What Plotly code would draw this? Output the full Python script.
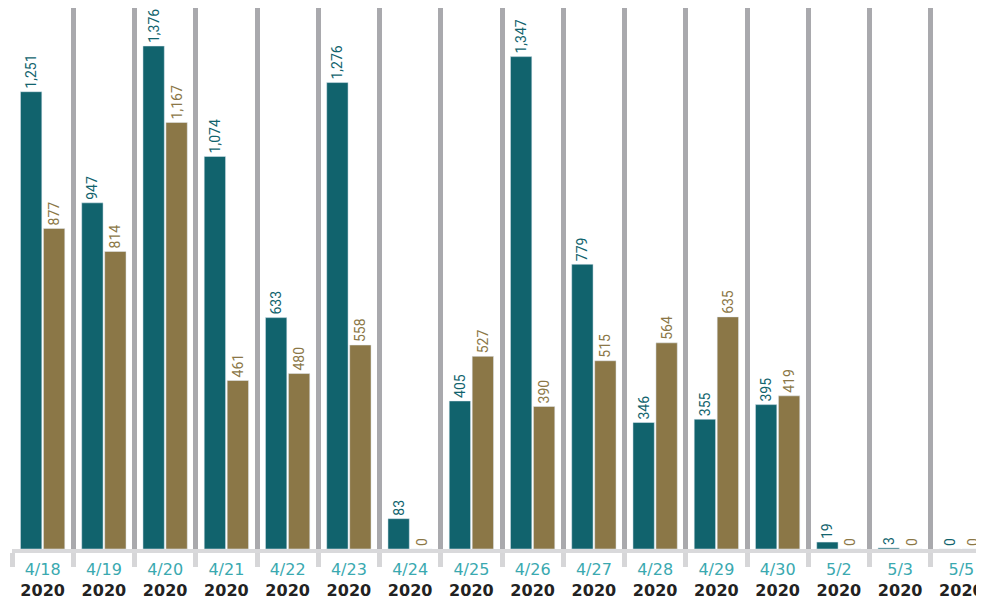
import plotly.graph_objects as go

categories = ["4/18", "4/19", "4/20", "4/21", "4/22", "4/23", "4/24", "4/25",
              "4/26", "4/27", "4/28", "4/29", "4/30", "5/2", "5/3", "5/5"]
year_label = "2020"
series_a = [1251, 947, 1376, 1074, 633, 1276, 83, 405, 1347, 779, 346, 355, 395, 19, 3, 0]
series_b = [877, 814, 1167, 461, 480, 558, 0, 527, 390, 515, 564, 635, 419, 0, 0, 0]

TEAL = "#11636d"
OLIVE = "#8b7747"
TICK_TEAL = "#3aa9b0"
FONT = "DejaVu Sans"
VALUE_FONT = "Roboto"

ticktext = [f"<span style='color:{TICK_TEAL}'>{c}</span><br><b>{year_label}</b>" for c in categories]

fig = go.Figure()
fig.add_trace(go.Bar(
    x=categories, y=series_a, marker_color=TEAL,
    text=series_a, texttemplate="%{y:,}", textposition="outside",
    textangle=-90, textfont=dict(color=TEAL, size=14, family=VALUE_FONT),
    cliponaxis=False, showlegend=False,
))
fig.add_trace(go.Bar(
    x=categories, y=series_b, marker_color=OLIVE,
    text=series_b, texttemplate="%{y:,}", textposition="outside",
    textangle=-90, textfont=dict(color=OLIVE, size=14, family=VALUE_FONT),
    cliponaxis=False, showlegend=False,
))

fig.update_layout(
    width=984, height=602,
    margin=dict(l=4, r=0, t=0, b=61, autoexpand=False),
    paper_bgcolor="white", plot_bgcolor="white",
    barmode="group", bargap=0.25, bargroupgap=0.07,
    uniformtext=dict(mode="show", minsize=14),
    font=dict(family=FONT),
)
fig.update_xaxes(
    type="category", range=[-0.5, 15.5], automargin=False,
    tickson="boundaries", showgrid=True, gridcolor="#a9a9ad", gridwidth=5,
    ticks="outside", ticklen=14, tickwidth=5, tickcolor="#d6d6d8",
    ticklabelstandoff=3,
    showline=True, linecolor="#d9d9db", linewidth=4,
    tickmode="array", tickvals=categories, ticktext=ticktext,
    tickfont=dict(size=16, color="#222222", family=FONT),
    fixedrange=True,
)
fig.update_yaxes(
    range=[0, 1480], showgrid=False, showticklabels=False, zeroline=False,
    showline=False, fixedrange=True, automargin=False,
)

fig.write_html("out.html")
